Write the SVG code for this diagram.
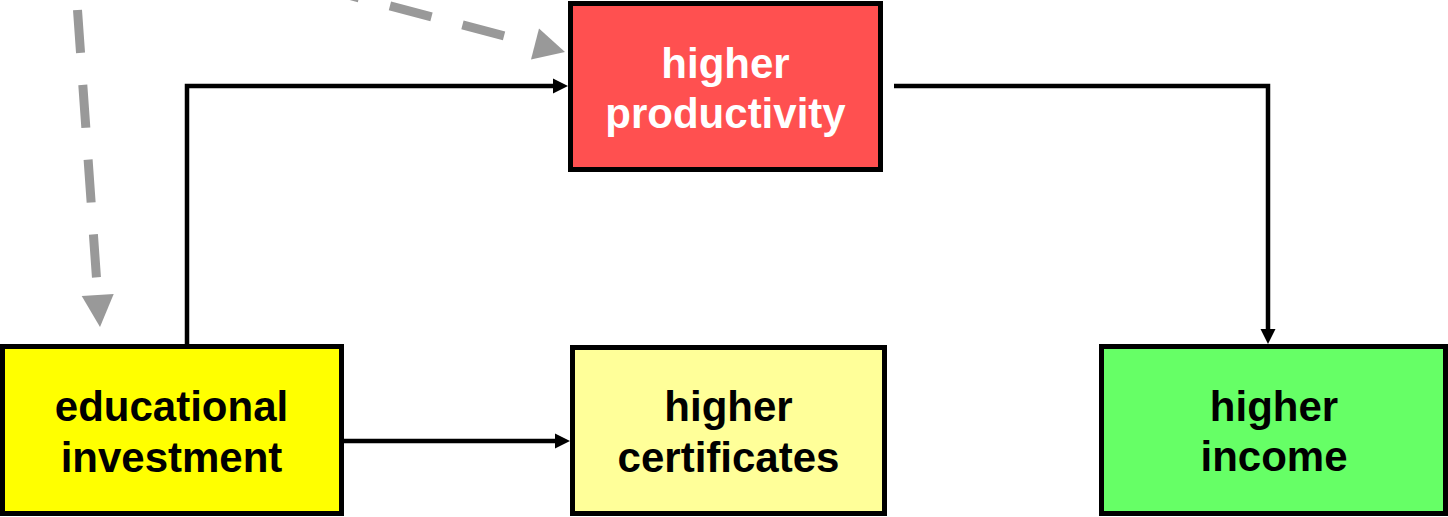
<svg xmlns="http://www.w3.org/2000/svg" width="1448" height="517" viewBox="0 0 1448 517">
  <defs>
    <style>
      .box { stroke: #000; stroke-width: 5; }
      .label { font-family: "Liberation Sans", Arial, sans-serif; font-weight: bold; font-size: 42px; text-anchor: middle; }
      .link { fill: none; stroke: #000; stroke-width: 4.5; }
      .hint { fill: none; stroke: #999; stroke-width: 9; stroke-dasharray: 43 32; }
      .hint-head { fill: #999; }
    </style>
    <marker id="arrow" markerUnits="userSpaceOnUse" markerWidth="16" markerHeight="16" viewBox="0 0 16 16" refX="0" refY="8" orient="auto">
      <path d="M0,0.5 L15,8 L0,15.5 Z" fill="#000"/>
    </marker>
  </defs>

  <rect width="1448" height="517" fill="#fff"/>

  <!-- connectors -->
  <g id="connectors">
    <polyline class="link" points="187,344 187,86 553,86" marker-end="url(#arrow)"/>
    <line class="link" x1="344" y1="441" x2="555" y2="441" marker-end="url(#arrow)"/>
    <polyline class="link" points="894,86 1268,86 1268,329" marker-end="url(#arrow)"/>

    <!-- dashed grey influences -->
    <path class="hint" d="M77.5,10 L97.7,295"/>
    <polygon class="hint-head" points="113.7,293.9 81.7,296.1 100,327"/>
    <path class="hint" style="stroke-dashoffset:43" d="M535,44 L283.6,-22"/>
    <polygon class="hint-head" points="539,28.5 531,59.5 565,52"/>
  </g>

  <g id="node-productivity">
    <rect class="box" x="570.5" y="3.5" width="310" height="166" fill="#FF5050"/>
    <text class="label" fill="#fff" x="725.5" y="77.5">higher</text>
    <text class="label" fill="#fff" x="725.5" y="128">productivity</text>
  </g>

  <g id="node-investment">
    <rect class="box" x="2.5" y="346.5" width="339" height="167" fill="#FFFF00"/>
    <text class="label" fill="#000" x="171.5" y="421">educational</text>
    <text class="label" fill="#000" x="171.5" y="472">investment</text>
  </g>

  <g id="node-certificates">
    <rect class="box" x="572.5" y="347.5" width="312" height="166" fill="#FFFF99"/>
    <text class="label" fill="#000" x="728.5" y="421">higher</text>
    <text class="label" fill="#000" x="728.5" y="472">certificates</text>
  </g>

  <g id="node-income">
    <rect class="box" x="1101.5" y="346.5" width="344" height="167" fill="#66FF66"/>
    <text class="label" fill="#000" x="1274" y="421">higher</text>
    <text class="label" fill="#000" x="1274" y="471">income</text>
  </g>
</svg>
